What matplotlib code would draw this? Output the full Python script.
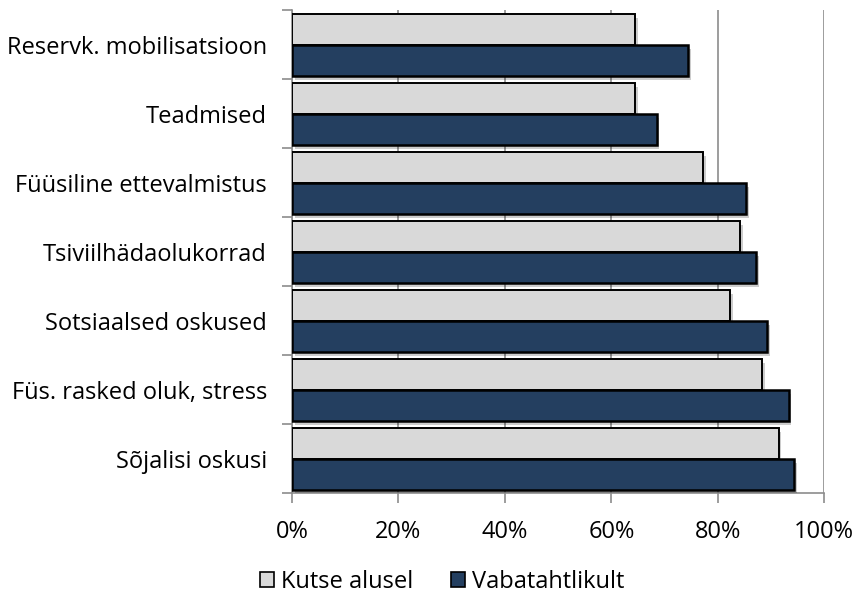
import matplotlib.pyplot as plt
import matplotlib.patheffects as pe
from matplotlib.patches import Patch
import numpy as np

categories = ['Reservk. mobilisatsioon', 'Teadmised', 'Füüsiline ettevalmistus',
              'Tsiviilhädaolukorrad', 'Sotsiaalsed oskused', 'Füs. rasked oluk, stress',
              'Sõjalisi oskusi']
kutse = [64.5, 64.5, 77.3, 84.2, 82.3, 88.3, 91.4]
vabat = [74.4, 68.5, 85.3, 87.2, 89.3, 93.3, 94.3]
xticks = [0, 20, 40, 60, 80, 100]
xticklabels = ['0%', '20%', '40%', '60%', '80%', '100%']

plt.rcParams['font.family'] = ['Open Sans', 'DejaVu Sans']

fig = plt.figure(figsize=(8.6, 5.96), dpi=100)
ax = fig.add_axes([0.3395, 0.172, 0.619, 0.811])

y = np.arange(len(categories))
h = 0.45
shadow = [pe.SimplePatchShadow(offset=(2, -3), shadow_rgbFace='#000000', alpha=0.2), pe.Normal()]
b1 = ax.barh(y - h / 2, kutse, height=h, color='#D9D9D9', edgecolor='black', linewidth=1.4,
             zorder=3)
b2 = ax.barh(y + h / 2, vabat, height=h, color='#243F60', edgecolor='black', linewidth=1.8,
             zorder=3)
for b in list(b1) + list(b2):
    b.set_path_effects(shadow)

ax.set_xlim(0, 100)
ax.set_ylim(len(categories) - 0.5, -0.5)
ax.set_xticks(xticks)
ax.set_xticklabels(xticklabels, fontsize=17)
ax.set_yticks(y)
ax.set_yticklabels(categories, fontsize=17)
ax.tick_params(axis='y', length=0, pad=18)
ax.set_yticks(np.arange(len(categories) + 1) - 0.5, minor=True)
ax.tick_params(axis='y', which='minor', length=7, color='#8c8c8c', width=1.2)
ax.tick_params(axis='x', length=7, color='#8c8c8c', width=1.2, pad=12)

ax.grid(axis='x', color='#8c8c8c', linewidth=1.2, zorder=0)
for s in ['top', 'right']:
    ax.spines[s].set_visible(False)
for s in ['left', 'bottom']:
    ax.spines[s].set_color('#8c8c8c')
    ax.spines[s].set_linewidth(1.2)

handles = [Patch(facecolor='#D9D9D9', edgecolor='black', linewidth=1.2, label='Kutse alusel'),
           Patch(facecolor='#243F60', edgecolor='black', linewidth=1.2, label='Vabatahtlikult')]
fig.legend(handles=handles, loc='center', bbox_to_anchor=(0.514, 0.024), ncol=2,
           frameon=False, fontsize=17, handlelength=0.6, handleheight=0.6,
           handletextpad=0.3, columnspacing=1.6, borderpad=0)

fig.savefig('out.png', dpi=100)
